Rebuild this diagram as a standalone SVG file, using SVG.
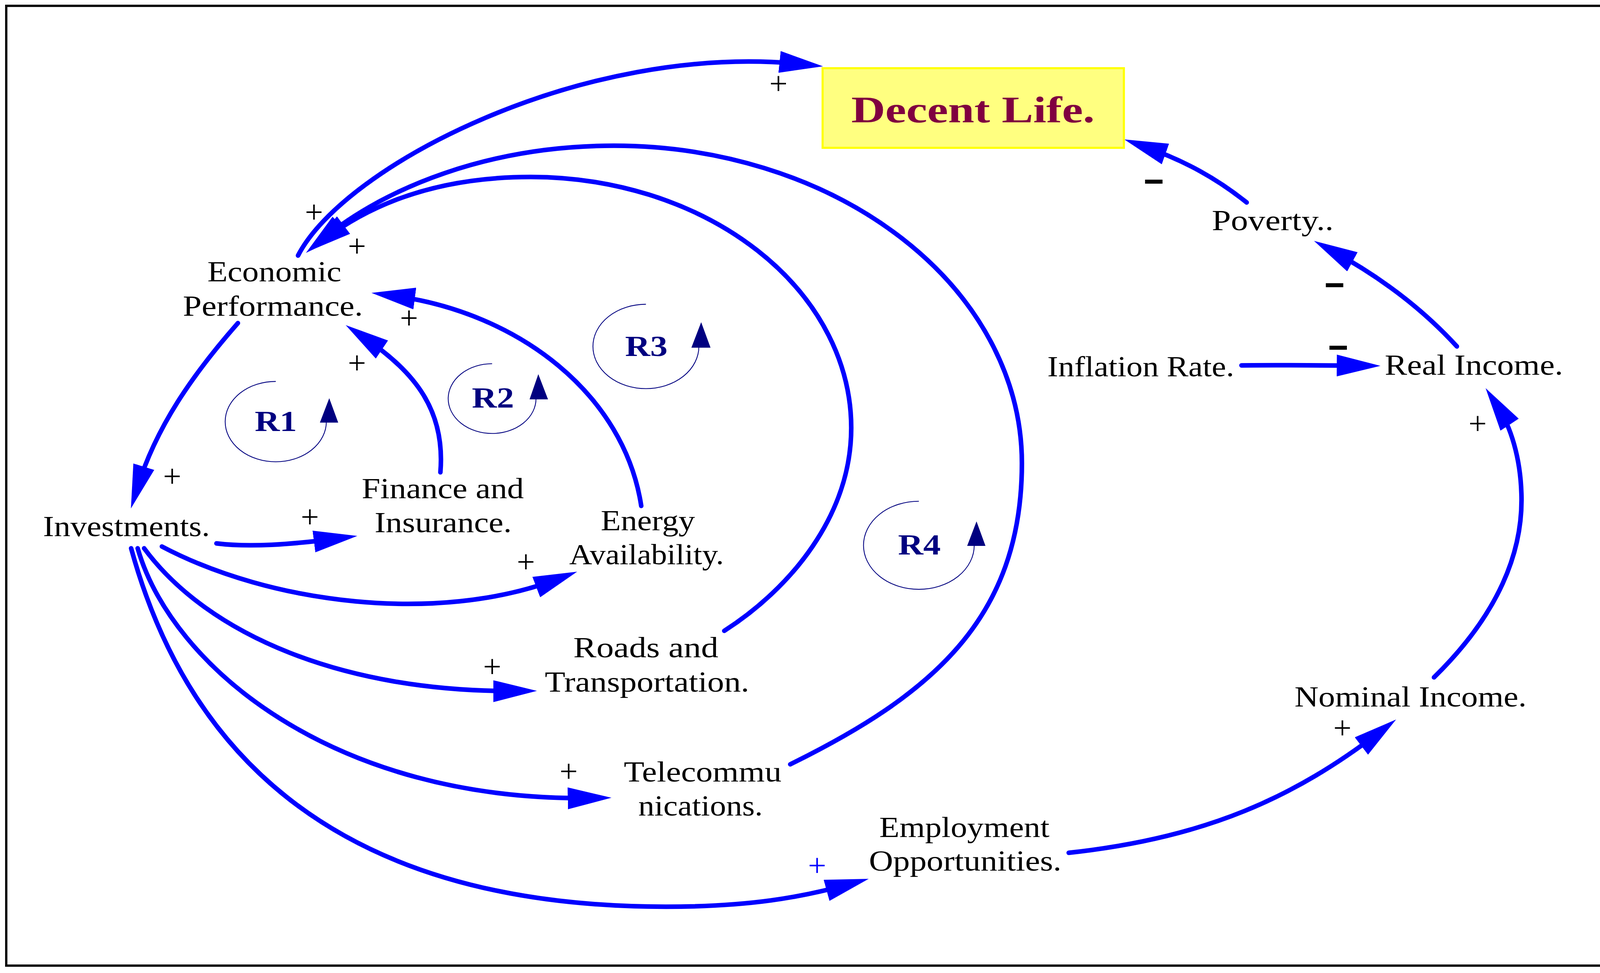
<svg xmlns="http://www.w3.org/2000/svg" width="4177" height="2490" viewBox="0 0 4177 2490">
<defs>
<style>
.c{fill:none;stroke:#0000FF;stroke-width:4.4;stroke-linecap:round;marker-end:url(#ah)}
.t{font-family:'Liberation Serif','Times New Roman',serif;font-size:28px;fill:#000}
.pl{font-family:'Liberation Serif','Times New Roman',serif;font-size:31px;fill:#000;text-anchor:middle}
.mi{font-family:'Liberation Sans',Arial,sans-serif;font-weight:bold;font-size:32px;fill:#000}
.loop{fill:none;stroke:#000080;stroke-width:0.8}
.la{fill:#000080}
.rl{font-family:'Liberation Serif','Times New Roman',serif;font-weight:bold;font-size:28px;fill:#000080}
</style>
<marker id="ah" markerUnits="userSpaceOnUse" markerWidth="42" markerHeight="21" viewBox="0 0 42 21" refX="22" refY="10.5" orient="auto">
<path d="M0,0 L42,10.5 L0,21 z" fill="#0000FF"/>
</marker>
</defs>
<rect x="0" y="0" width="4177" height="2490" fill="#FFFFFF"/>
<g transform="scale(2.664)">
<rect x="6" y="5.6" width="1555" height="922" fill="none" stroke="#000" stroke-width="2.2"/>

<g id="connectors">
<path class="c" d="M286.4,245.5 C330,160 560,40 771,61.7"/>
<path class="c" d="M759.4,734.2 C894,668 982,595 982,445 A392,305 0 0 0 590,140 C470,140 370,180 309.4,230.2"/>
<path class="c" d="M696,606 C760,565 818,495 818,411 A308,241 0 0 0 510,170 C430,170 365,190 312.5,229.4"/>
<path class="c" d="M228.6,310.4 C185,360 150,410 131.7,469.3"/>
<path class="c" d="M423.2,453.7 C428,395 400,358 348.8,323.5"/>
<path class="c" d="M616.2,486 C600,380 500,300 376.8,283.9"/>
<path class="c" d="M208,522 C240,526 280,523 323.5,517.4"/>
<path class="c" d="M155.6,525 C260,580 420,600 535.9,556.2"/>
<path class="c" d="M138.5,526.7 C200,610 330,665 496,663.8"/>
<path class="c" d="M132.3,526.7 C165,640 320,770 567.6,766.6"/>
<path class="c" d="M126,526.7 C184.3,738.8 340,871 640,871 C720,871 770,862 815.5,849.5"/>
<path class="c" d="M1027,819.2 C1160,805 1245,765 1325.7,703.3"/>
<path class="c" d="M1378,650.7 C1440,590 1464,530 1462,474 C1461,440 1452,410 1438.6,389.6"/>
<path class="c" d="M1400,332.8 C1370,300 1330,268 1280.3,241"/>
<path class="c" d="M1198,194.5 C1170,172 1140,155 1099.2,140.6"/>
<path class="c" d="M1193,351 C1230,350.5 1270,351 1306.6,351.3"/>
</g>

<g id="polarity">
<text class="pl" x="748" y="90.5">+</text>
<text class="pl" x="301.7" y="213.9">+</text>
<text class="pl" x="343" y="246.5">+</text>
<text class="pl" x="393" y="315.7">+</text>
<text class="pl" x="343" y="358.7">+</text>
<text class="pl" x="165.5" y="467.6">+</text>
<text class="pl" x="297.8" y="506.6">+</text>
<text class="pl" x="505.4" y="550.1">+</text>
<text class="pl" x="473" y="650.4">+</text>
<text class="pl" x="546.5" y="751.2">+</text>
<text class="pl" x="785.2" y="841.7" style="fill:#0000FF">+</text>
<text class="pl" x="1290" y="709.4">+</text>
<text class="pl" x="1420" y="417.2">+</text>
<text class="mi" x="1097.8" y="182.7" textLength="22" lengthAdjust="spacingAndGlyphs">-</text>
<text class="mi" x="1271.5" y="282.3" textLength="22" lengthAdjust="spacingAndGlyphs">-</text>
<text class="mi" x="1275" y="342.3" textLength="22" lengthAdjust="spacingAndGlyphs">-</text>
</g>

<g id="loops">
<g id="loop-R1">
<path class="loop" d="M265,366.4 A48.6,38.6 0 1 0 313.6,405"/>
<polygon class="la" points="316.4,382.5 307.4,406 325,406"/>
<text class="rl" x="244.8" y="414" textLength="40.5" lengthAdjust="spacingAndGlyphs">R1</text>
</g>
<g id="loop-R2">
<path class="loop" d="M472.9,349.4 A42.2,33.5 0 1 0 515.1,382.9"/>
<polygon class="la" points="517.3,359.4 508.9,383.6 526.6,383.6"/>
<text class="rl" x="453.5" y="391.5" textLength="40.5" lengthAdjust="spacingAndGlyphs">R2</text>
</g>
<g id="loop-R3">
<path class="loop" d="M620.7,292.3 A50.9,40.5 0 1 0 671.6,332.8"/>
<polygon class="la" points="673.8,309.5 664.4,334 682.8,334"/>
<text class="rl" x="600.7" y="341.8" textLength="40.8" lengthAdjust="spacingAndGlyphs">R3</text>
</g>
<g id="loop-R4">
<path class="loop" d="M883,481.5 A53.2,42.3 0 1 0 936.2,523.8"/>
<polygon class="la" points="938.4,500.8 929.4,524.4 947,524.4"/>
<text class="rl" x="863" y="532.8" textLength="41" lengthAdjust="spacingAndGlyphs">R4</text>
</g>
</g>

<g id="node-decent-life">
<rect x="790.5" y="65.5" width="289.5" height="76.5" fill="#FFFF80" stroke="#FFFF00" stroke-width="2"/>
<text x="818" y="117.5" textLength="234" lengthAdjust="spacingAndGlyphs" style="font-family:'Liberation Serif','Times New Roman',serif;font-weight:bold;font-size:36px;fill:#800040">Decent Life.</text>
</g>
<g id="node-economic-performance">
<text class="t" x="199.3" y="270.3" textLength="128.7" lengthAdjust="spacingAndGlyphs">Economic</text>
<text class="t" x="175.8" y="303.4" textLength="172.9" lengthAdjust="spacingAndGlyphs">Performance.</text>
</g>
<g id="node-investments">
<text class="t" x="41.4" y="515" textLength="160.3" lengthAdjust="spacingAndGlyphs">Investments.</text>
</g>
<g id="node-finance">
<text class="t" x="347.6" y="478.6" textLength="155.8" lengthAdjust="spacingAndGlyphs">Finance and</text>
<text class="t" x="360" y="511.3" textLength="131.7" lengthAdjust="spacingAndGlyphs">Insurance.</text>
</g>
<g id="node-energy">
<text class="t" x="577.3" y="509.4" textLength="90.5" lengthAdjust="spacingAndGlyphs">Energy</text>
<text class="t" x="547" y="542" textLength="148.6" lengthAdjust="spacingAndGlyphs">Availability.</text>
</g>
<g id="node-roads">
<text class="t" x="551" y="631.4" textLength="139.3" lengthAdjust="spacingAndGlyphs">Roads and</text>
<text class="t" x="523.6" y="664.4" textLength="196.4" lengthAdjust="spacingAndGlyphs">Transportation.</text>
</g>
<g id="node-telecom">
<text class="t" x="599.5" y="750.7" textLength="151.5" lengthAdjust="spacingAndGlyphs">Telecommu</text>
<text class="t" x="613.4" y="783.4" textLength="119.6" lengthAdjust="spacingAndGlyphs">nications.</text>
</g>
<g id="node-employment">
<text class="t" x="845" y="804" textLength="163.5" lengthAdjust="spacingAndGlyphs">Employment</text>
<text class="t" x="835" y="836.3" textLength="185" lengthAdjust="spacingAndGlyphs">Opportunities.</text>
</g>
<g id="node-nominal-income">
<text class="t" x="1244" y="678.5" textLength="223" lengthAdjust="spacingAndGlyphs">Nominal Income.</text>
</g>
<g id="node-real-income">
<text class="t" x="1330.7" y="359.8" textLength="171.3" lengthAdjust="spacingAndGlyphs">Real Income.</text>
</g>
<g id="node-inflation-rate">
<text class="t" x="1006.5" y="361.5" textLength="179.5" lengthAdjust="spacingAndGlyphs">Inflation Rate.</text>
</g>
<g id="node-poverty">
<text class="t" x="1164.5" y="221" textLength="117" lengthAdjust="spacingAndGlyphs">Poverty..</text>
</g>
</g>
</svg>
